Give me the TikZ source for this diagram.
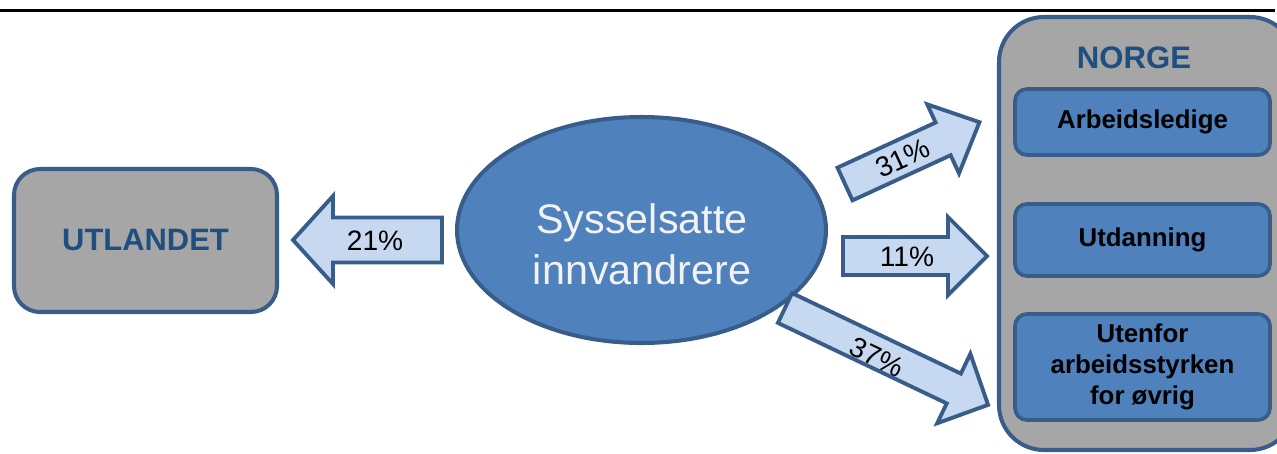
\documentclass[tikz,border=0pt]{standalone}
\usepackage{fontspec}
\setmainfont{Liberation Sans}
\usetikzlibrary{shapes.geometric}
\definecolor{bord}{HTML}{385D8A}
\definecolor{boxgray}{HTML}{A6A6A6}
\definecolor{blueFill}{HTML}{4F81BD}
\definecolor{arrowFill}{HTML}{C6D9F1}
\definecolor{titleBlue}{HTML}{1F4E80}
\definecolor{lightText}{HTML}{F2F2F2}
\newdimen\pxu \pxu=0.02cm
% #1 tail, #2 angle, #3 length, #4 shaft width, #5 head width, #6 head length
\newcommand\blockarrow[6]{%
  \begin{scope}[shift={#1}, rotate=#2]
    \draw[arrowshape] (0,-#4/2) -- (#3-#6,-#4/2) -- (#3-#6,-#5/2) -- (#3,0)
      -- (#3-#6,#5/2) -- (#3-#6,#4/2) -- (0,#4/2) -- cycle;
  \end{scope}}
\tikzset{
  arrowshape/.style={draw=bord, fill=arrowFill, line width=2.2pt, line join=miter},
  outerbox/.style={draw=bord, fill=boxgray, line width=2.3pt, inner sep=0pt},
  innerbox/.style={draw=bord, fill=blueFill, line width=2.1pt, rounded corners=0.24cm,
    minimum width=255*\pxu, inner sep=0pt, align=center,
    font=\fontsize{14.7pt}{17.6pt}\selectfont\bfseries},
  pct/.style={font=\fontsize{16pt}{19pt}\selectfont, text=black, inner sep=0pt}
}
\begin{document}
\begin{tikzpicture}[x=0.02cm,y=-0.02cm]
\useasboundingbox (0,0) rectangle (1277,453);
\clip (0,0) rectangle (1277,453);
\draw[line width=2pt] (0,10.5) -- (1275,10.5);

% UTLANDET
\node[outerbox, rounded corners=0.52cm, minimum width=263*\pxu, minimum height=143*\pxu,
  text=titleBlue, font=\fontsize{17.6pt}{20pt}\selectfont\bfseries] (utl) at (145.5,240.5) {UTLANDET};

% NORGE container
\node[outerbox, rounded corners=0.9cm, minimum width=296*\pxu, minimum height=433*\pxu] (norge) at (1147,233.5) {};
\node[text=titleBlue, font=\fontsize{17.7pt}{20pt}\selectfont\bfseries, inner sep=0pt] (norgelbl) at (1134,58) {NORGE};
\node[innerbox, minimum height=66*\pxu] (arb) at (1142.5,122) {Arbeidsledige};
\node[innerbox, minimum height=72*\pxu] (utd) at (1142.5,240) {Utdanning};
\node[innerbox, minimum height=106*\pxu] (ute) at (1142.5,367) {Utenfor\\arbeidsstyrken\\for øvrig};

% Ellipse
\node[ellipse, draw=bord, fill=blueFill, line width=2.3pt, minimum width=369*\pxu, minimum height=226*\pxu,
  inner sep=0pt] (syss) at (641.5,230) {};
\node[align=center, text=lightText, font=\fontsize{23.5pt}{29pt}\selectfont, inner sep=0pt]
  (sysstext) at (642,244) {Sysselsatte\\innvandrere};

% Arrows
\blockarrow{(442,240)}{180}{149}{45}{88}{40}
\node[pct] (p21) at (375,241) {21\%};
\blockarrow{(843,256)}{0}{144}{38}{78}{39}
\node[pct] (p11) at (907,257) {11\%};
\blockarrow{(845,184)}{24.7}{148}{36}{76}{40}
\node[pct, rotate=24.7] (p31) at (903,158) {31\%};
\blockarrow{(785,308)}{-25.5}{225}{33}{77}{38}
\node[pct, rotate=-25.5] (p37) at (877,357) {37\%};
\end{tikzpicture}
\end{document}
